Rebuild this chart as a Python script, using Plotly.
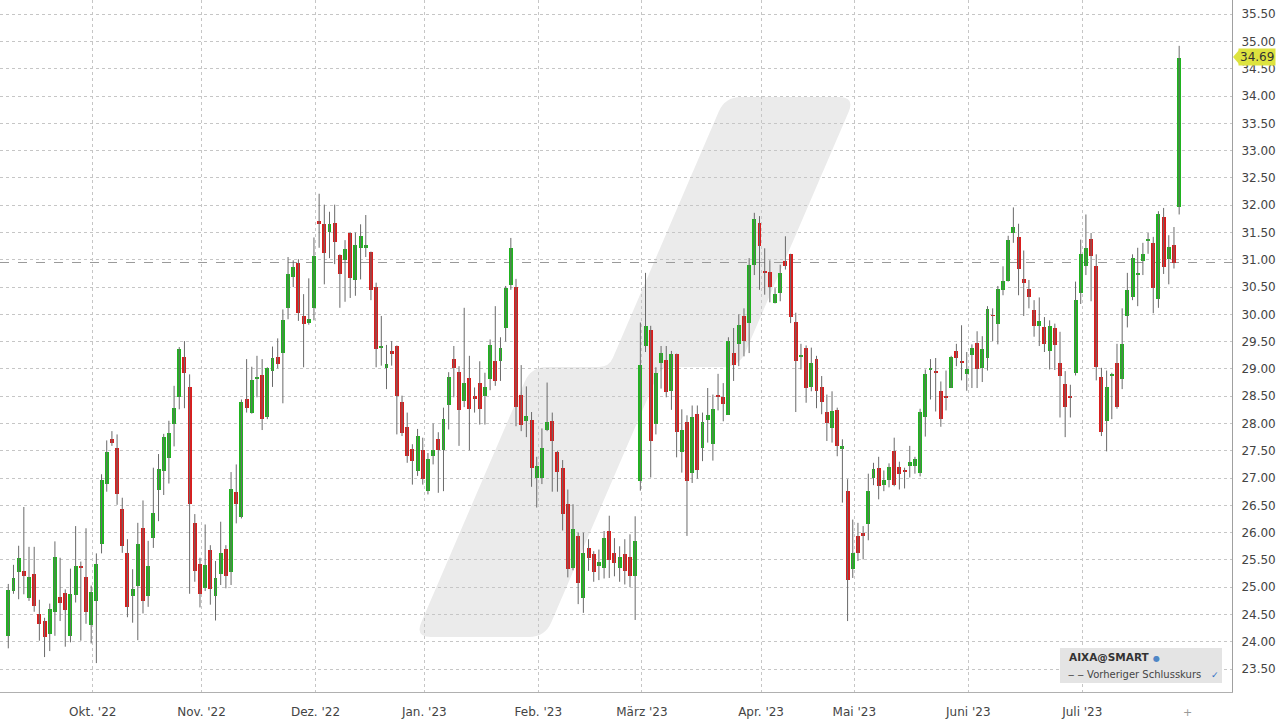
import pandas as pd
import plotly.graph_objects as go

# ---------------- data ----------------
start_date, end_date = "2022-09-08", "2023-07-27"
holidays = ["2022-12-26", "2023-04-07", "2023-04-10", "2023-05-01"]
dates = [d for d in pd.bdate_range(start_date, end_date) if d.strftime("%Y-%m-%d") not in holidays]

open_ = [24.10, 24.93, 25.28, 25.30, 24.81, 25.25, 24.51, 24.38, 24.15, 24.55,
         24.83, 24.89, 24.11, 24.86, 25.38, 25.19, 24.31, 24.74, 25.79, 26.90,
         27.72, 27.55, 26.43, 25.63, 24.84, 25.02, 26.09, 24.84, 25.90, 26.78,
         27.13, 27.37, 27.99, 28.49, 29.21, 28.67, 26.18, 25.43, 24.99, 25.68,
         24.84, 25.25, 25.70, 25.27, 26.75, 26.28, 28.44, 28.20, 28.83, 28.89,
         28.12, 28.96, 29.22, 29.30, 30.11, 30.69, 30.95, 29.97, 29.85, 30.12,
         31.71, 31.65, 31.51, 31.68, 31.09, 31.00, 31.49, 30.63, 31.22, 31.22,
         31.14, 30.50, 29.39, 29.02, 29.33, 29.42, 28.40, 27.94, 27.53, 27.13,
         27.51, 26.77, 27.40, 27.71, 27.51, 28.34, 29.19, 28.95, 28.42, 28.83,
         28.51, 28.75, 28.50, 28.81, 29.14, 29.14, 29.75, 30.53, 30.50, 28.53,
         28.05, 28.06, 27.01, 27.01, 27.88, 28.05, 27.48, 27.19, 26.52, 25.35,
         25.94, 24.80, 25.72, 25.61, 25.38, 25.35, 26.03, 25.62, 25.35, 25.60,
         25.55, 25.20, 26.94, 29.42, 29.72, 28.00, 29.11, 29.17, 28.59, 29.27,
         27.48, 28.03, 27.10, 28.18, 27.56, 28.06, 27.63, 28.53, 28.49, 28.16,
         29.29, 29.45, 29.97, 29.84, 30.90, 31.68, 30.79, 30.78, 30.21, 30.39,
         30.97, 31.10, 29.86, 29.22, 29.39, 28.67, 29.19, 28.67, 28.21, 27.92,
         28.24, 27.53, 26.77, 25.34, 25.94, 25.99, 26.16, 27.01, 27.18, 26.87,
         26.97, 27.49, 27.21, 27.14, 27.23, 27.23, 27.09, 28.11, 28.98, 28.97,
         28.60, 28.50, 28.65, 29.32, 29.14, 28.90, 29.25, 29.48, 29.01, 29.20,
         29.98, 29.83, 30.44, 30.61, 31.49, 31.42, 30.64, 30.47, 30.08, 29.79,
         29.76, 29.32, 29.75, 29.10, 28.73, 28.50, 28.92, 30.39, 30.88, 31.38,
         30.89, 28.85, 28.05, 28.87, 29.11, 28.82, 29.97, 30.32, 30.73, 30.97,
         31.36, 31.30, 30.28, 31.78, 31.01, 31.27, 31.96]

high = [25.06, 25.41, 25.76, 26.47, 25.74, 25.74, 24.77, 24.44, 24.70, 25.84,
        25.54, 24.96, 25.34, 26.12, 25.47, 26.08, 25.03, 25.62, 27.07, 27.69,
        27.86, 27.80, 26.64, 25.88, 25.33, 26.18, 26.59, 25.85, 27.19, 27.44,
        27.81, 28.05, 28.69, 29.40, 29.51, 28.90, 26.34, 25.54, 26.15, 25.77,
        25.48, 26.20, 25.77, 27.11, 27.25, 28.44, 29.18, 29.04, 29.24, 29.18,
        29.03, 29.41, 29.56, 30.09, 31.05, 30.99, 31.01, 30.37, 30.66, 31.41,
        32.21, 32.01, 31.88, 32.01, 31.10, 31.36, 31.50, 31.50, 31.65, 31.82,
        31.15, 30.58, 29.97, 29.44, 29.51, 29.43, 28.51, 28.20, 27.62, 27.90,
        27.74, 27.46, 28.00, 27.84, 28.29, 28.94, 29.42, 29.05, 30.12, 29.24,
        28.66, 29.14, 28.93, 29.54, 30.15, 29.58, 30.52, 31.40, 30.65, 29.07,
        28.68, 28.21, 27.39, 27.91, 28.75, 28.20, 27.50, 27.33, 26.79, 26.52,
        26.00, 26.00, 25.88, 25.66, 25.69, 26.03, 26.31, 25.90, 25.75, 25.88,
        25.97, 26.30, 29.85, 30.76, 29.79, 29.03, 29.42, 29.42, 29.33, 29.28,
        28.26, 28.15, 28.33, 28.33, 28.20, 28.65, 28.53, 28.91, 28.74, 29.58,
        29.75, 30.00, 30.11, 31.03, 31.86, 31.80, 31.21, 30.99, 30.48, 30.91,
        31.43, 31.11, 30.03, 29.46, 29.43, 29.39, 29.24, 28.87, 28.53, 28.59,
        28.29, 27.71, 26.98, 26.24, 26.18, 26.12, 27.08, 27.28, 27.39, 27.14,
        27.27, 27.74, 27.30, 27.19, 27.59, 27.39, 28.27, 28.99, 29.18, 29.20,
        28.77, 28.97, 29.24, 29.46, 29.80, 29.31, 29.45, 29.69, 29.60, 30.15,
        30.11, 30.52, 30.88, 31.44, 31.96, 31.66, 31.17, 30.63, 30.26, 30.31,
        29.95, 29.89, 29.83, 29.68, 28.96, 28.71, 30.60, 31.37, 31.83, 31.49,
        31.10, 29.02, 28.97, 28.93, 29.46, 30.11, 30.76, 31.10, 31.22, 31.31,
        31.49, 31.42, 31.89, 31.95, 31.45, 31.60, 34.92]

low = [23.88, 24.88, 24.78, 24.87, 24.75, 24.55, 24.02, 23.72, 23.83, 24.11,
       24.38, 23.91, 23.99, 24.72, 24.02, 24.33, 23.97, 23.61, 25.62, 26.75,
       27.59, 26.51, 25.63, 24.45, 24.35, 24.03, 24.52, 24.64, 25.72, 26.21,
       26.69, 26.90, 27.58, 28.26, 28.28, 24.88, 25.10, 24.63, 24.93, 24.68,
       24.39, 25.04, 24.98, 25.04, 26.17, 26.26, 28.20, 28.18, 28.48, 27.88,
       28.08, 28.67, 29.01, 28.37, 29.91, 30.50, 29.88, 29.03, 29.81, 29.89,
       31.22, 30.55, 31.03, 30.92, 30.12, 30.23, 30.30, 30.34, 30.64, 31.05,
       30.26, 29.03, 29.06, 28.63, 29.06, 27.80, 27.77, 27.28, 26.88, 27.04,
       26.88, 26.70, 27.25, 26.73, 26.76, 27.89, 28.48, 27.59, 28.30, 27.51,
       28.20, 27.98, 27.98, 28.61, 28.69, 28.78, 29.50, 30.45, 27.95, 27.86,
       27.75, 26.84, 26.46, 26.89, 27.86, 26.75, 26.75, 26.04, 25.18, 25.31,
       24.69, 24.53, 25.30, 25.10, 25.13, 25.16, 25.17, 25.20, 25.10, 25.05,
       25.00, 24.40, 26.77, 29.31, 27.01, 27.80, 28.64, 28.48, 28.25, 27.38,
       27.10, 25.94, 26.91, 26.99, 27.31, 27.65, 27.32, 28.24, 28.04, 28.16,
       28.78, 29.05, 29.23, 29.29, 30.72, 30.45, 30.36, 30.22, 30.20, 30.24,
       30.82, 29.84, 28.21, 28.99, 28.38, 28.59, 28.28, 28.17, 27.68, 27.65,
       27.40, 26.55, 24.38, 25.17, 25.48, 25.51, 25.86, 26.87, 26.61, 26.76,
       26.83, 26.85, 26.79, 26.81, 27.01, 27.08, 27.03, 27.76, 28.44, 28.22,
       27.94, 28.24, 28.65, 29.05, 28.79, 28.60, 28.65, 28.65, 28.76, 28.97,
       29.51, 29.45, 30.35, 30.60, 31.31, 30.35, 29.97, 30.11, 29.59, 29.42,
       29.31, 28.99, 28.98, 28.11, 27.75, 28.11, 28.88, 30.19, 30.72, 30.24,
       28.79, 27.77, 27.49, 28.08, 28.27, 28.63, 29.76, 30.26, 30.15, 30.72,
       31.11, 30.02, 30.12, 30.74, 30.55, 30.84, 31.83]

close = [24.95, 25.16, 25.53, 25.21, 25.18, 24.65, 24.33, 24.08, 24.60, 25.56,
         24.72, 24.58, 24.88, 25.39, 25.36, 24.55, 24.92, 25.43, 26.96, 27.48,
         27.65, 26.70, 25.75, 24.64, 24.97, 25.80, 24.75, 25.39, 26.36, 27.16,
         27.75, 27.83, 28.28, 29.36, 28.92, 26.52, 25.30, 24.88, 25.40, 24.96,
         25.16, 25.63, 25.21, 26.80, 26.52, 28.40, 28.29, 28.79, 28.86, 28.08,
         29.01, 29.20, 29.09, 29.89, 30.74, 30.86, 30.03, 29.83, 29.91, 31.07,
         31.66, 31.13, 31.65, 31.33, 30.74, 31.19, 30.67, 31.27, 31.44, 31.27,
         30.44, 29.36, 29.42, 29.09, 29.27, 28.51, 27.83, 27.41, 27.31, 27.78,
         26.98, 27.35, 27.51, 27.51, 28.09, 28.86, 29.01, 28.24, 28.74, 28.26,
         28.45, 28.26, 28.67, 29.44, 28.77, 29.38, 30.48, 31.21, 28.31, 27.97,
         28.13, 27.19, 27.23, 27.56, 28.03, 27.68, 27.12, 26.35, 25.34, 26.07,
         25.08, 25.62, 25.54, 25.27, 25.47, 25.90, 25.49, 25.45, 25.55, 25.30,
         25.20, 25.85, 29.07, 29.79, 27.68, 28.93, 29.30, 28.58, 29.28, 27.84,
         27.88, 26.94, 28.11, 27.15, 28.03, 28.15, 28.27, 28.50, 28.35, 29.51,
         29.08, 29.80, 29.51, 30.90, 31.74, 31.25, 30.76, 30.50, 30.38, 30.76,
         30.89, 29.95, 29.15, 29.25, 28.65, 29.10, 28.59, 28.40, 28.01, 28.23,
         27.59, 27.59, 25.13, 25.63, 25.63, 25.93, 26.77, 27.16, 26.85, 26.96,
         27.21, 26.87, 27.07, 27.12, 27.29, 27.35, 28.21, 28.90, 29.02, 28.94,
         28.09, 28.48, 29.21, 29.20, 29.11, 28.99, 29.39, 28.99, 29.37, 30.09,
         29.97, 30.47, 30.61, 31.36, 31.60, 30.84, 30.58, 30.32, 29.79, 29.87,
         29.46, 29.78, 29.43, 28.87, 28.30, 28.48, 30.27, 31.10, 31.22, 31.07,
         29.04, 27.85, 28.66, 28.91, 28.31, 29.46, 30.45, 31.03, 30.76, 31.11,
         31.38, 30.49, 31.83, 30.86, 31.24, 30.95, 34.69]

month_labels = ["Okt. '22", "Nov. '22", "Dez. '22", "Jan. '23", "Feb. '23",
                "März '23", "Apr. '23", "Mai '23", "Juni '23", "Juli '23"]

# ---------------- figure ----------------
n = len(dates)
xs = list(range(n))
month_starts = [i for i in range(1, n) if dates[i].month != dates[i - 1].month]

PLOT_W, PLOT_H = 1232, 692
FONT = "DejaVu Sans"
GREEN, RED, WICK = "#1fb41f", "#d91d1d", "#6a6a6a"

fig = go.Figure()

# wicks
wx, wy = [], []
for i in xs:
    wx += [i, i, None]
    wy += [low[i], high[i], None]
fig.add_trace(go.Scatter(x=wx, y=wy, mode="lines", line=dict(color=WICK, width=1),
                         hoverinfo="skip", showlegend=False))

# bodies
body_base = [min(o, c) for o, c in zip(open_, close)]
body_len = [abs(c - o) for o, c in zip(open_, close)]
body_col = [GREEN if c >= o else RED for o, c in zip(open_, close)]
fig.add_trace(go.Bar(x=xs, y=body_len, base=body_base, width=0.76,
                     marker=dict(color=body_col, line=dict(width=0)),
                     hoverinfo="skip", showlegend=False, name="AIXA@SMART"))

# watermark (pixel coords inside plot area, origin top-left)
wm = [(415, 637), (545, 637), (661, 367), (739, 367), (855, 97), (725, 97), (609, 367), (531, 367)]
radii = [16, 16, 10, 16, 16, 16, 10, 16]


def to_paper(p):
    return (p[0] / PLOT_W, 1 - p[1] / PLOT_H)


parts = []
for k, v in enumerate(wm):
    p = wm[k - 1]
    nx = wm[(k + 1) % len(wm)]
    r = radii[k]
    dp = ((p[0] - v[0]), (p[1] - v[1]))
    dn = ((nx[0] - v[0]), (nx[1] - v[1]))
    lp = (dp[0] ** 2 + dp[1] ** 2) ** 0.5
    ln = (dn[0] ** 2 + dn[1] ** 2) ** 0.5
    a = to_paper((v[0] + dp[0] * r / lp, v[1] + dp[1] * r / lp))
    b = to_paper((v[0] + dn[0] * r / ln, v[1] + dn[1] * r / ln))
    c = to_paper(v)
    parts.append(("M" if k == 0 else "L") + f" {a[0]:.5f},{a[1]:.5f} Q {c[0]:.5f},{c[1]:.5f} {b[0]:.5f},{b[1]:.5f}")
path = " ".join(parts) + " Z"

shapes = [
    dict(type="path", path=path, xref="paper", yref="paper", fillcolor="#ebebeb",
         line=dict(width=0), layer="below"),
    dict(type="line", xref="paper", x0=0, x1=1, yref="y", y0=close[-2], y1=close[-2],
         line=dict(color="#9a9a9a", width=1.2, dash="dash"), layer="between"),
    # legend box
    dict(type="rect", xref="paper", yref="paper", x0=1060 / PLOT_W, x1=1222 / PLOT_W,
         y0=1 - 683 / PLOT_H, y1=1 - 648 / PLOT_H, fillcolor="#e4e4e4", line=dict(width=0),
         layer="above"),
    # pointer of price label
    dict(type="path", xref="paper", yref="paper",
         path=f"M {1 + 1/PLOT_W:.5f},{1 - 57/PLOT_H:.5f} L {1 + 7/PLOT_W:.5f},{1 - 50/PLOT_H:.5f} "
              f"L {1 + 7/PLOT_W:.5f},{1 - 64/PLOT_H:.5f} Z",
         fillcolor="#dde33f", line=dict(width=0)),
]

annotations = [
    dict(xref="paper", yref="y", x=1, y=close[-1], xanchor="left", xshift=6, yshift=1,
         text=f"{close[-1]:.2f}", showarrow=False, bgcolor="#dde33f", borderpad=1,
         font=dict(family=FONT, size=12, color="#333")),
    dict(xref="paper", yref="paper", x=1067 / PLOT_W, y=1 - 657 / PLOT_H, xanchor="left",
         yanchor="middle", text="<b>AIXA@SMART</b>", showarrow=False,
         font=dict(family=FONT, size=10.5, color="#333")),
    dict(xref="paper", yref="paper", x=1151 / PLOT_W, y=1 - 658 / PLOT_H, xanchor="left",
         yanchor="middle", text="●", showarrow=False,
         font=dict(family=FONT, size=8, color="#4f86c6")),
    dict(xref="paper", yref="paper", x=1066 / PLOT_W, y=1 - 674 / PLOT_H, xanchor="left",
         yanchor="middle", text="‒ ‒ Vorheriger Schlusskurs", showarrow=False,
         font=dict(family=FONT, size=10, color="#444")),
    dict(xref="paper", yref="paper", x=1209 / PLOT_W, y=1 - 675 / PLOT_H, xanchor="left",
         yanchor="middle", text="✓", showarrow=False,
         font=dict(family=FONT, size=9, color="#2f6fc4")),
    dict(xref="x", yref="paper", x=n + 0.7, y=-0.018, yanchor="top", text="+",
         showarrow=False, font=dict(family=FONT, size=11, color="#999")),
]

fig.update_layout(
    width=1280, height=720,
    margin=dict(l=0, r=48, t=0, b=28),
    paper_bgcolor="white", plot_bgcolor="white",
    showlegend=False, bargap=0,
    font=dict(family=FONT, size=12, color="#444"),
    shapes=shapes, annotations=annotations,
    xaxis=dict(range=[-1.6, 236.2], tickvals=[m - 0.7 for m in month_starts],
               ticktext=month_labels, showgrid=True, gridcolor="#c6c6c6", griddash="dot",
               gridwidth=1, zeroline=False, showline=True, linecolor="#b0b0b0",
               ticks="", ticklabelstandoff=9, fixedrange=True,
               tickfont=dict(family=FONT, size=12, color="#444")),
    yaxis=dict(side="right", range=[23.08, 35.76], tick0=0, dtick=0.5, tickformat=".2f",
               showgrid=True, gridcolor="#c6c6c6", griddash="dot", gridwidth=1,
               zeroline=False, showline=True, linecolor="#a0a0a0", ticks="",
               ticklabelstandoff=6, fixedrange=True,
               tickfont=dict(family=FONT, size=12, color="#444")),
)

fig.write_html("out.html", post_script="document.body.style.margin='0';",
               config={"displayModeBar": False})
